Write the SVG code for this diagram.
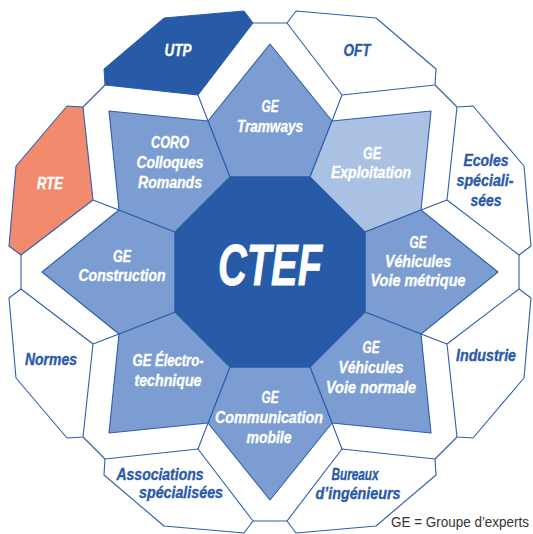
<svg xmlns="http://www.w3.org/2000/svg" width="533" height="534" viewBox="0 0 533 534">
<style>
.cell{fill:#ffffff;stroke:#2d5fab;stroke-width:1.1;stroke-linejoin:round}
.petal{fill:#7b9dd1;stroke:#2d5fab;stroke-width:1.1;stroke-linejoin:round}
.light{fill:#aac1e3}
.line{fill:none;stroke:#2d5fab;stroke-width:1.1}
text{font-family:"Liberation Sans Narrow","Liberation Sans",Arial,sans-serif;font-weight:bold;font-style:italic;font-size:16px;text-anchor:middle}
.w{fill:#ffffff;stroke:#ffffff;stroke-width:0.35}
.b{fill:#2a5aa8;stroke:#2a5aa8;stroke-width:0.35}
.note{font-weight:normal;font-style:normal;font-size:14px;fill:#333333;text-anchor:end}
</style>
<rect width="533" height="534" fill="#ffffff"/>
<g id="connectors">
<line class="line" x1="253" y1="23" x2="287" y2="23"/>
<line class="line" x1="519" y1="255" x2="519" y2="289"/>
<line class="line" x1="287" y1="521" x2="253" y2="521"/>
<line class="line" x1="21" y1="289" x2="21" y2="255"/>
<line class="line" x1="105" y1="85" x2="83" y2="107"/>
<line class="line" x1="435" y1="85" x2="457" y2="107"/>
<line class="line" x1="457" y1="437" x2="435" y2="459"/>
<line class="line" x1="105" y1="459" x2="83" y2="437"/>
<line class="line" x1="198" y1="95" x2="208" y2="121"/>
<line class="line" x1="342" y1="95" x2="332" y2="121"/>
<line class="line" x1="447" y1="200" x2="421" y2="210"/>
<line class="line" x1="447" y1="344" x2="421" y2="334"/>
<line class="line" x1="342" y1="449" x2="332" y2="423"/>
<line class="line" x1="198" y1="449" x2="208" y2="423"/>
<line class="line" x1="93" y1="344" x2="119" y2="334"/>
<line class="line" x1="93" y1="200" x2="119" y2="210"/>
</g>
<g id="utp">
<polygon points="105,85 104,69 164,18 244,11 253,23 198,95" fill="#275ba8" stroke="#275ba8" stroke-width="1"/>
<text class="w" x="178" y="56" textLength="27" lengthAdjust="spacingAndGlyphs">UTP</text>
</g>
<g id="oft">
<polygon class="cell" points="435,85 436,69 376,18 296,11 287,23 342,95"/>
<text class="b" x="357" y="56" textLength="27" lengthAdjust="spacingAndGlyphs">OFT</text>
</g>
<g id="ecoles">
<polygon class="cell" points="457,107 473,106 524,166 531,246 519,255 447,200"/>
<text class="b" x="486" y="166" textLength="45" lengthAdjust="spacingAndGlyphs">Ecoles</text>
<text class="b" x="485" y="186" textLength="57" lengthAdjust="spacingAndGlyphs">spéciali-</text>
<text class="b" x="486" y="206" textLength="31" lengthAdjust="spacingAndGlyphs">sées</text>
</g>
<g id="industrie">
<polygon class="cell" points="457,437 473,438 524,378 531,298 519,289 447,344"/>
<text class="b" x="486" y="361" textLength="60" lengthAdjust="spacingAndGlyphs">Industrie</text>
</g>
<g id="bureaux">
<polygon class="cell" points="435,459 436,475 376,526 296,533 287,521 342,449"/>
<text class="b" x="355" y="480" textLength="47" lengthAdjust="spacingAndGlyphs">Bureaux</text>
<text class="b" x="358" y="499" textLength="85" lengthAdjust="spacingAndGlyphs">d’ingénieurs</text>
</g>
<g id="associations">
<polygon class="cell" points="105,459 104,475 164,526 244,533 253,521 198,449"/>
<text class="b" x="160" y="480" textLength="87" lengthAdjust="spacingAndGlyphs">Associations</text>
<text class="b" x="181" y="498" textLength="84" lengthAdjust="spacingAndGlyphs">spécialisées</text>
</g>
<g id="normes">
<polygon class="cell" points="83,437 67,438 16,378 9,298 21,289 93,344"/>
<text class="b" x="51" y="365" textLength="52" lengthAdjust="spacingAndGlyphs">Normes</text>
</g>
<g id="rte">
<polygon class="cell" points="83,107 67,106 16,166 9,246 21,255 93,200" style="fill:#f28b6e"/>
<text class="w" x="50" y="189" textLength="26" lengthAdjust="spacingAndGlyphs">RTE</text>
</g>
<g id="ge-tramways">
<polygon class="petal" points="230,177 208,121 270,44 332,121 310,177"/>
<text class="w" x="270" y="112" textLength="17" lengthAdjust="spacingAndGlyphs">GE</text>
<text class="w" x="270" y="132" textLength="66" lengthAdjust="spacingAndGlyphs">Tramways</text>
</g>
<g id="ge-exploitation">
<polygon class="petal light" points="310,177 332,121 431,111 421,210 365,232"/>
<text class="w" x="372" y="159" textLength="18" lengthAdjust="spacingAndGlyphs">GE</text>
<text class="w" x="371" y="178" textLength="80" lengthAdjust="spacingAndGlyphs">Exploitation</text>
</g>
<g id="ge-voie-metrique">
<polygon class="petal" points="365,232 421,210 498,272 421,334 365,312"/>
<text class="w" x="418" y="248" textLength="17" lengthAdjust="spacingAndGlyphs">GE</text>
<text class="w" x="418" y="267" textLength="66" lengthAdjust="spacingAndGlyphs">Véhicules</text>
<text class="w" x="418" y="286" textLength="95" lengthAdjust="spacingAndGlyphs">Voie métrique</text>
</g>
<g id="ge-voie-normale">
<polygon class="petal" points="365,312 421,334 431,433 332,423 310,367"/>
<text class="w" x="371" y="353" textLength="17" lengthAdjust="spacingAndGlyphs">GE</text>
<text class="w" x="371" y="373" textLength="65" lengthAdjust="spacingAndGlyphs">Véhicules</text>
<text class="w" x="371" y="393" textLength="90" lengthAdjust="spacingAndGlyphs">Voie normale</text>
</g>
<g id="ge-communication">
<polygon class="petal" points="310,367 332,423 270,500 208,423 230,367"/>
<text class="w" x="270" y="403" textLength="17" lengthAdjust="spacingAndGlyphs">GE</text>
<text class="w" x="269" y="423" textLength="108" lengthAdjust="spacingAndGlyphs">Communication</text>
<text class="w" x="269" y="443" textLength="45" lengthAdjust="spacingAndGlyphs">mobile</text>
</g>
<g id="ge-electrotechnique">
<polygon class="petal" points="230,367 208,423 109,433 119,334 175,312"/>
<text class="w" x="168" y="366" textLength="71" lengthAdjust="spacingAndGlyphs">GE Électro-</text>
<text class="w" x="168" y="386" textLength="67" lengthAdjust="spacingAndGlyphs">technique</text>
</g>
<g id="ge-construction">
<polygon class="petal" points="175,312 119,334 42,272 119,210 175,232"/>
<text class="w" x="122" y="262" textLength="18" lengthAdjust="spacingAndGlyphs">GE</text>
<text class="w" x="122" y="281" textLength="87" lengthAdjust="spacingAndGlyphs">Construction</text>
</g>
<g id="coro">
<polygon class="petal" points="175,232 119,210 109,111 208,121 230,177"/>
<text class="w" x="170" y="148" textLength="38" lengthAdjust="spacingAndGlyphs">CORO</text>
<text class="w" x="170" y="168" textLength="67" lengthAdjust="spacingAndGlyphs">Colloques</text>
<text class="w" x="170" y="188" textLength="64" lengthAdjust="spacingAndGlyphs">Romands</text>
</g>
<g id="ctef">
<polygon points="230,177 310,177 365,232 365,312 310,367 230,367 175,312 175,232" fill="#275ba8" stroke="#275ba8" stroke-width="1"/>
<text class="w" x="270" y="285" style="font-size:57px;stroke-width:0.8" textLength="104" lengthAdjust="spacingAndGlyphs">CTEF</text>
</g>
<g id="legend">
<text class="note" x="529" y="527" textLength="138" lengthAdjust="spacingAndGlyphs">GE = Groupe d’experts</text>
</g>
</svg>
